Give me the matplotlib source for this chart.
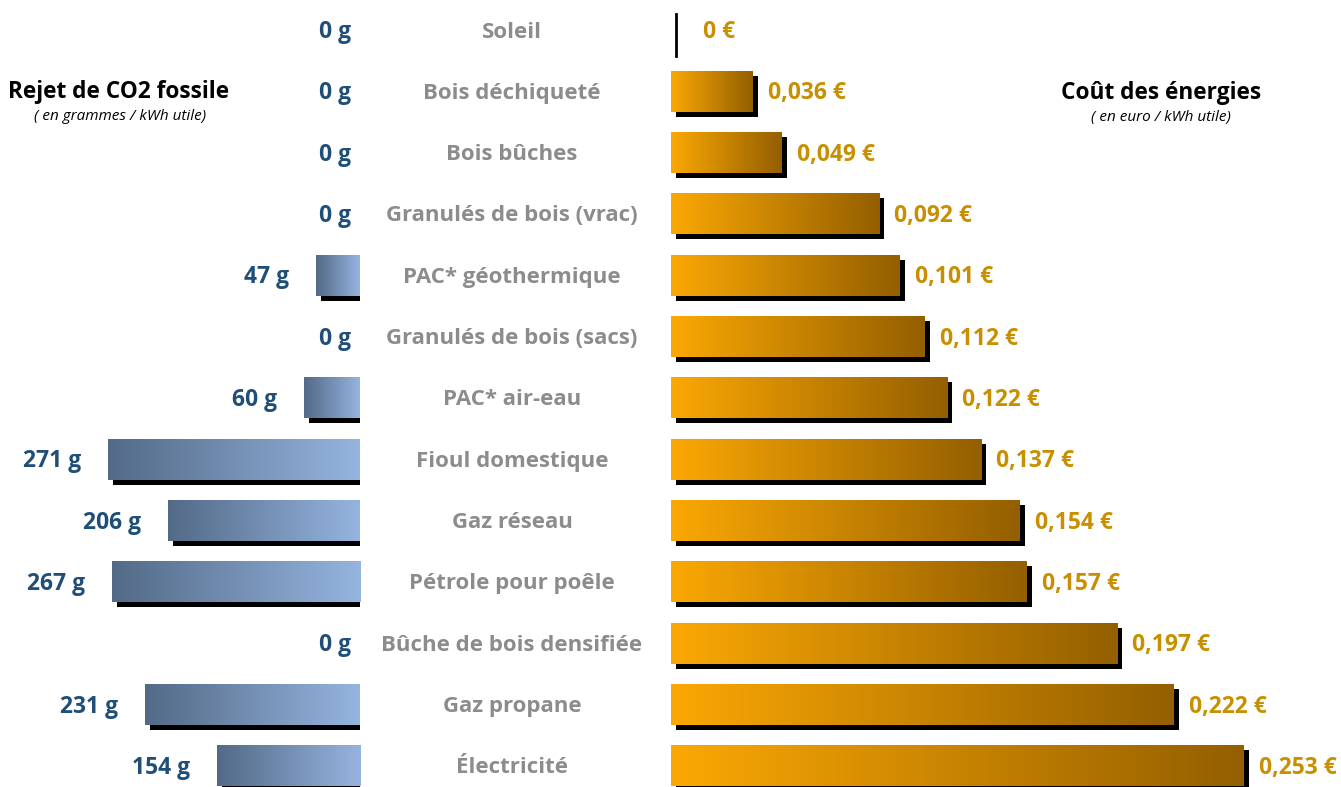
import matplotlib
matplotlib.use("Agg")
import matplotlib.pyplot as plt
import numpy as np
from matplotlib.colors import LinearSegmentedColormap
from matplotlib.transforms import ScaledTranslation, offset_copy

# données
categories = ["Soleil", "Bois déchiqueté", "Bois bûches", "Granulés de bois (vrac)",
              "PAC* géothermique", "Granulés de bois (sacs)", "PAC* air-eau",
              "Fioul domestique", "Gaz réseau", "Pétrole pour poêle",
              "Bûche de bois densifiée", "Gaz propane", "Électricité"]
co2 = [0, 0, 0, 0, 47, 0, 60, 271, 206, 267, 0, 231, 154]
cout = [0, 0.036, 0.049, 0.092, 0.101, 0.112, 0.122, 0.137, 0.154, 0.157, 0.197, 0.222, 0.253]

plt.rcParams['font.family'] = ['Open Sans', 'DejaVu Sans']

W, H = 1341, 787
fig = plt.figure(figsize=(W / 100, H / 100), dpi=100)

row_px = 61.33
y0_px = 30
ylim = ((H - y0_px) / row_px, -y0_px / row_px)
bar_h = 41 / row_px

# axe gauche : CO2, barres vers la gauche depuis x=360 px
g_px = 252 / 271
axL = fig.add_axes([0, 0, 360 / W, 1])
axL.axis('off')

# axe droit : coût, depuis x=671 px
e_px = 573 / 0.253
axR = fig.add_axes([671 / W, 0, (W - 671) / W, 1])
axR.axis('off')

cmapL = LinearSegmentedColormap.from_list('bl', ['#536a87', '#95b4df'])
cmapR = LinearSegmentedColormap.from_list('or', ['#fba804', '#945f00'])
grad = np.linspace(0, 1, 256).reshape(1, -1)

shadow = ScaledTranslation(5 / 100, -5 / 100, fig.dpi_scale_trans)
y = np.arange(len(categories))

# ombres
axL.barh(y, co2, height=bar_h, color='black', transform=axL.transData + shadow, zorder=1)
axR.barh(y, cout, height=bar_h, color='black', transform=axR.transData + shadow, zorder=1)

blue = '#1f4e79'
gold = '#c89000'
for i, v in enumerate(co2):
    if v > 0:
        axL.imshow(grad, cmap=cmapL, extent=(v, 0, i + bar_h / 2, i - bar_h / 2),
                   aspect='auto', zorder=2)
    off = 27 if v > 0 else 9
    axL.text(v, i, f"{v} g", ha='right', va='center', fontsize=16.5, fontweight='bold',
             color=blue, transform=offset_copy(axL.transData, fig, x=-off, y=-2, units='dots'))

for i, v in enumerate(cout):
    if v > 0:
        axR.imshow(grad, cmap=cmapR, extent=(0, v, i + bar_h / 2, i - bar_h / 2),
                   aspect='auto', zorder=2)
        lab = f"{v:.3f}".replace('.', ',') + " €"
        off = 15
    else:
        axR.plot([0, 0], [i - bar_h / 2, i + bar_h / 2], color='black',
                 lw=2, transform=axR.transData + shadow)
        lab = "0 €"
        off = 32
    axR.text(v, i, lab, ha='left', va='center', fontsize=16.5, fontweight='bold',
             color=gold, transform=offset_copy(axR.transData, fig, x=off, y=-2, units='dots'))

axL.set_xlim(360 / g_px, 0)
axL.set_ylim(*ylim)
axR.set_xlim(0, (W - 671) / e_px)
axR.set_ylim(*ylim)

# catégories au centre
for i, c in enumerate(categories):
    fig.text(512 / W, 1 - (y0_px + 2 + i * row_px) / H, c, ha='center', va='center',
             fontsize=16, fontweight='bold', color='#8c8c8c')

# titres
fig.text(119 / W, 1 - 92 / H, "Rejet de CO2 fossile", ha='center', va='center',
         fontsize=16.3, fontweight='bold', color='black')
fig.text(120 / W, 1 - 117 / H, "( en grammes / kWh utile)", ha='center', va='center',
         fontsize=11, style='italic', color='black')
fig.text(1161 / W, 1 - 93 / H, "Coût des énergies", ha='center', va='center',
         fontsize=16.3, fontweight='bold', color='black')
fig.text(1161 / W, 1 - 117 / H, "( en euro / kWh utile)", ha='center', va='center',
         fontsize=11, style='italic', color='black')

fig.savefig("out.png", dpi=100)
